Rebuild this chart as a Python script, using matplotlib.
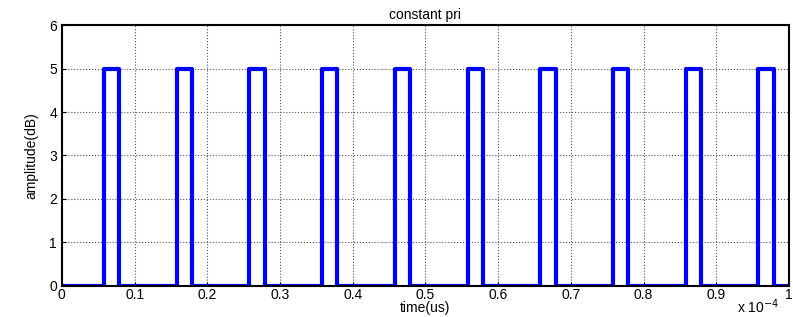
import numpy as np
import matplotlib
matplotlib.use("Agg")
import matplotlib.pyplot as plt

# pulse train data (time in units of 1e-4 s)
pulse_starts = [0.058, 0.158, 0.258, 0.358, 0.458, 0.558, 0.658, 0.758, 0.858, 0.958]
pulse_ends = [0.079, 0.179, 0.279, 0.379, 0.479, 0.579, 0.679, 0.779, 0.879, 0.979]
amplitude = 5
scale = 1e-4

# build the rectangular waveform
t = [0.0]
y = [0.0]
for s, e in zip(pulse_starts, pulse_ends):
    t += [s, s, e, e]
    y += [0, amplitude, amplitude, 0]
t.append(1.0)
y.append(0.0)
t = np.array(t) * scale

plt.rcParams['font.family'] = ['Liberation Sans', 'DejaVu Sans']
fig = plt.figure(figsize=(7.93, 3.17), dpi=100)
ax = fig.add_axes([0.078, 0.098, 0.917, 0.823])
ax.plot(t, y, color='#0000ff', linewidth=3)

ax.set_xlim(0, 1e-4)
ax.set_ylim(0, 6)
ax.set_xticks(np.arange(0, 1.01, 0.1) * scale)
ax.set_xticklabels(['0', '0.1', '0.2', '0.3', '0.4', '0.5', '0.6', '0.7', '0.8', '0.9', '1'])
ax.set_yticks(range(0, 7))
ax.tick_params(direction='in', length=3, labelsize=10, width=0.8)
ax.tick_params(axis='x', pad=1.5)
ax.grid(True, color='#555555', linestyle=':', linewidth=0.8)
for sp in ax.spines.values():
    sp.set_linewidth(1.5)

ax.set_title('constant pri', fontsize=10, pad=4)
ax.set_xlabel('time(us)', fontsize=10)
ax.xaxis.set_label_coords(0.5, -0.058)
ax.set_ylabel('amplitude(dB)', fontsize=10, labelpad=8)
fig.text(0.93, 0.012, r'x 10$^{-4}$', fontsize=10)

fig.savefig('out.png', dpi=100)
